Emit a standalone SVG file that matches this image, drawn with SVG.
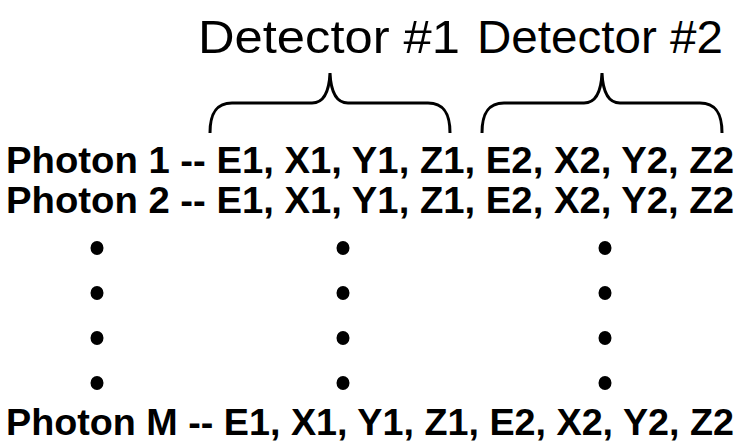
<svg xmlns="http://www.w3.org/2000/svg" width="740" height="446" viewBox="0 0 740 446">
  <style>
    .det { font-family: "Liberation Sans", Arial, sans-serif; font-size: 46px; fill: #000; }
    .row { font-family: "Liberation Sans", Arial, sans-serif; font-size: 37px; font-weight: bold; fill: #000; }
    .brace { fill: none; stroke: #000; stroke-width: 3; stroke-linecap: butt; }
    .dot { fill: #000; }
  </style>
  <rect width="740" height="446" fill="#fff"/>

  <!-- detector headings -->
  <g id="detector1">
    <text class="det" x="198" y="53" textLength="262" lengthAdjust="spacingAndGlyphs">Detector #1</text>
  </g>
  <g id="detector2">
    <text class="det" x="477" y="53" textLength="246" lengthAdjust="spacingAndGlyphs">Detector #2</text>
  </g>

  <!-- braces grouping the fields of each detector -->
  <g id="braces">
    <path class="brace" d="M210,133 C210,115 215,103 232,103 L312,103 C322,103 329,95 330,73 C331,95 338,103 348,103 L428,103 C445,103 450,115 450,133"/>
    <path class="brace" d="M482,133 C482,115 487,103 504,103 L584,103 C594,103 601,95 602,73 C603,95 610,103 620,103 L700,103 C717,103 722,115 722,133"/>
  </g>

  <!-- event rows -->
  <g id="photon1">
    <text class="row" x="6" y="173" textLength="728" lengthAdjust="spacingAndGlyphs">Photon 1 -- E1, X1, Y1, Z1, E2, X2, Y2, Z2</text>
  </g>
  <g id="photon2">
    <text class="row" x="6" y="213" textLength="728" lengthAdjust="spacingAndGlyphs">Photon 2 -- E1, X1, Y1, Z1, E2, X2, Y2, Z2</text>
  </g>

  <!-- continuation dots -->
  <g id="ellipsis">
    <ellipse class="dot" cx="97" cy="248" rx="6.5" ry="7"/>
    <ellipse class="dot" cx="343" cy="248" rx="6.5" ry="7"/>
    <ellipse class="dot" cx="605" cy="248" rx="6.5" ry="7"/>
    <ellipse class="dot" cx="97" cy="293" rx="6.5" ry="7"/>
    <ellipse class="dot" cx="343" cy="293" rx="6.5" ry="7"/>
    <ellipse class="dot" cx="605" cy="293" rx="6.5" ry="7"/>
    <ellipse class="dot" cx="97" cy="338" rx="6.5" ry="7"/>
    <ellipse class="dot" cx="343" cy="338" rx="6.5" ry="7"/>
    <ellipse class="dot" cx="605" cy="338" rx="6.5" ry="7"/>
    <ellipse class="dot" cx="97" cy="383" rx="6.5" ry="7"/>
    <ellipse class="dot" cx="343" cy="383" rx="6.5" ry="7"/>
    <ellipse class="dot" cx="605" cy="383" rx="6.5" ry="7"/>
  </g>

  <g id="photonM">
    <text class="row" x="6" y="435" textLength="728" lengthAdjust="spacingAndGlyphs">Photon M -- E1, X1, Y1, Z1, E2, X2, Y2, Z2</text>
  </g>
</svg>
